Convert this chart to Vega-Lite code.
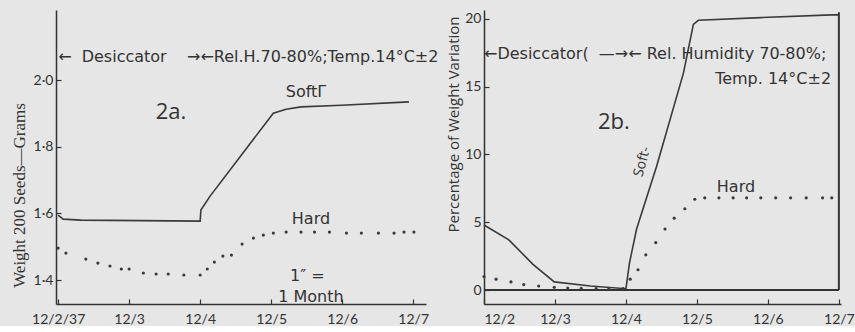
{
  "$schema": "https://vega.github.io/schema/vega-lite/v6.json",
  "background": "#e6e6e6",
  "padding": {"left": 10, "top": 10, "right": 0, "bottom": 0},
  "bounds": "flush",
  "spacing": 58,
  "config": {
    "view": {"stroke": null},
    "axis": {
      "grid": false,
      "domainColor": "#333333",
      "domainWidth": 1.5,
      "tickColor": "#333333",
      "tickWidth": 1.2,
      "tickSize": -5,
      "labelColor": "#333333",
      "labelFont": "Lato",
      "labelFontSize": 14,
      "titleColor": "#333333",
      "titleFontWeight": "normal"
    },
    "text": {"font": "DejaVu Sans", "color": "#333333", "fontSize": 16}
  },
  "datasets": {
    "softA": [
      {"m": 0, "v": 1.595}, {"m": 0.07, "v": 1.583}, {"m": 0.32, "v": 1.58}, {"m": 2.0, "v": 1.577},
      {"m": 2.01, "v": 1.61}, {"m": 2.14, "v": 1.652}, {"m": 3.03, "v": 1.901}, {"m": 3.21, "v": 1.913},
      {"m": 3.42, "v": 1.92}, {"m": 3.99, "v": 1.925}, {"m": 4.94, "v": 1.935}
    ],
    "hardA": [
      {"m": 0, "v": 1.496}, {"m": 0.11, "v": 1.481}, {"m": 0.39, "v": 1.463}, {"m": 0.56, "v": 1.451},
      {"m": 0.73, "v": 1.442}, {"m": 0.89, "v": 1.433}, {"m": 1.0, "v": 1.433}, {"m": 1.2, "v": 1.421},
      {"m": 1.38, "v": 1.418}, {"m": 1.55, "v": 1.418}, {"m": 1.77, "v": 1.415}, {"m": 2.0, "v": 1.415},
      {"m": 2.1, "v": 1.433}, {"m": 2.2, "v": 1.454}, {"m": 2.32, "v": 1.472}, {"m": 2.44, "v": 1.475},
      {"m": 2.59, "v": 1.508}, {"m": 2.75, "v": 1.526}, {"m": 2.89, "v": 1.535}, {"m": 3.03, "v": 1.541},
      {"m": 3.21, "v": 1.544}, {"m": 3.42, "v": 1.544}, {"m": 3.61, "v": 1.544}, {"m": 3.82, "v": 1.544},
      {"m": 4.06, "v": 1.541}, {"m": 4.27, "v": 1.541}, {"m": 4.51, "v": 1.541}, {"m": 4.73, "v": 1.541},
      {"m": 4.87, "v": 1.544}, {"m": 5.01, "v": 1.544}
    ],
    "softB": [
      {"m": 0, "v": 4.8}, {"m": 0.35, "v": 3.7}, {"m": 0.69, "v": 1.9}, {"m": 0.99, "v": 0.6},
      {"m": 1.5, "v": 0.3}, {"m": 2.0, "v": 0.1}, {"m": 2.05, "v": 2.0}, {"m": 2.15, "v": 4.5},
      {"m": 2.43, "v": 9.1}, {"m": 2.81, "v": 16}, {"m": 2.95, "v": 19.6}, {"m": 3.02, "v": 19.9},
      {"m": 3.9, "v": 20.1}, {"m": 4.9, "v": 20.3}, {"m": 5.0, "v": 20.3}
    ],
    "hardB": [
      {"m": 0, "v": 1.0}, {"m": 0.17, "v": 0.8}, {"m": 0.38, "v": 0.6}, {"m": 0.56, "v": 0.4},
      {"m": 0.77, "v": 0.3}, {"m": 0.99, "v": 0.2}, {"m": 1.18, "v": 0.15}, {"m": 1.37, "v": 0.12},
      {"m": 1.58, "v": 0.1}, {"m": 1.76, "v": 0.1}, {"m": 1.96, "v": 0.1}, {"m": 2.06, "v": 0.8},
      {"m": 2.17, "v": 1.5}, {"m": 2.28, "v": 2.6}, {"m": 2.42, "v": 3.5}, {"m": 2.55, "v": 4.5},
      {"m": 2.68, "v": 5.3}, {"m": 2.83, "v": 6.0}, {"m": 2.97, "v": 6.7}, {"m": 3.11, "v": 6.8},
      {"m": 3.31, "v": 6.8}, {"m": 3.51, "v": 6.8}, {"m": 3.7, "v": 6.8}, {"m": 3.9, "v": 6.8},
      {"m": 4.11, "v": 6.8}, {"m": 4.32, "v": 6.8}, {"m": 4.54, "v": 6.8}, {"m": 4.77, "v": 6.8},
      {"m": 4.9, "v": 6.8}
    ],
    "frameB": [
      {"m": 5.0, "m2": 5.0, "v": 0, "v2": 20.5},
      {"m": 0, "m2": 5.0, "v": 0, "v2": 0}
    ],
    "headA": [{"m": 0, "v": 2.07, "t": "←\u00a0\u00a0Desiccator\u00a0\u00a0\u00a0\u00a0→←Rel.H.70-80%;Temp.14°C±2"}],
    "notesA": [
      {"m": 3.49, "v": 1.965, "t": "SoftΓ"},
      {"m": 3.56, "v": 1.583, "t": "Hard"},
      {"m": 3.51, "v": 1.412, "t": "1″ ="},
      {"m": 3.56, "v": 1.35, "t": "1 Month"}
    ],
    "bigA": [{"m": 1.59, "v": 1.905, "t": "2a."}],
    "headB": [{"m": 0, "v": 17.4, "t": "←Desiccator(\u00a0\u00a0—→←\u00a0Rel. Humidity 70-80%;"}],
    "tempB": [{"m": 4.89, "v": 15.6, "t": "Temp. 14°C±2"}],
    "notesB": [{"m": 3.55, "v": 7.6, "t": "Hard"}],
    "softLabB": [{"m": 2.23, "v": 9.45, "t": "Soft-"}],
    "bigB": [{"m": 1.83, "v": 12.4, "t": "2b."}]
  },
  "hconcat": [
    {
      "width": 370,
      "height": 294,
      "encoding": {
        "x": {
          "field": "m", "type": "quantitative",
          "scale": {"domain": [-0.03, 5.18], "nice": false, "zero": false},
          "axis": {
            "values": [0, 1, 2, 3, 4, 5],
            "title": null,
            "labelPadding": 13,
            "labelExpr": "['12/2/37','12/3','12/4','12/5','12/6','12/7'][datum.value]"
          }
        },
        "y": {
          "field": "v", "type": "quantitative",
          "scale": {"domain": [1.328, 2.211], "nice": false, "zero": false},
          "axis": {
            "values": [1.4, 1.6, 1.8, 2.0],
            "title": "Weight 200 Seeds—Grams",
            "titleFont": "Liberation Serif",
            "titleFontSize": 17,
            "titleAngle": -90,
            "titleX": -37,
            "titleY": 185,
            "titleAlign": "center",
            "titleBaseline": "middle",
            "labelPadding": 8,
            "labelExpr": "replace(format(datum.value, '.1f'), '.', '·')"
          }
        }
      },
      "layer": [
        {"data": {"name": "softA"}, "mark": {"type": "line", "color": "#3a3a3a", "strokeWidth": 1.6}},
        {"data": {"name": "hardA"}, "mark": {"type": "point", "filled": true, "size": 10, "color": "#3a3a3a", "opacity": 1}},
        {"data": {"name": "headA"}, "mark": {"type": "text", "align": "left", "baseline": "middle"}, "encoding": {"text": {"field": "t"}}},
        {"data": {"name": "notesA"}, "mark": {"type": "text", "align": "center", "baseline": "middle"}, "encoding": {"text": {"field": "t"}}},
        {"data": {"name": "bigA"}, "mark": {"type": "text", "align": "center", "baseline": "middle", "fontSize": 22, "font": "Open Sans"}, "encoding": {"text": {"field": "t"}}}
      ]
    },
    {
      "width": 357,
      "height": 294,
      "encoding": {
        "x": {
          "field": "m", "type": "quantitative",
          "scale": {"domain": [0, 5.03], "nice": false, "zero": false},
          "axis": {
            "values": [0, 1, 2, 3, 4, 5],
            "title": null,
            "labelPadding": 13,
            "labelExpr": "'12/' + (datum.value + 2)"
          }
        },
        "y": {
          "field": "v", "type": "quantitative",
          "scale": {"domain": [-1.03, 20.66], "nice": false, "zero": false},
          "axis": {
            "values": [0, 5, 10, 15, 20],
            "title": "Percentage of Weight Variation",
            "titleFont": "Open Sans",
            "titleFontSize": 15,
            "titleAngle": -90,
            "titleX": -31,
            "titleY": 114,
            "titleAlign": "center",
            "titleBaseline": "middle",
            "labelPadding": 8
          }
        }
      },
      "layer": [
        {"data": {"name": "frameB"}, "mark": {"type": "rule", "color": "#333333", "strokeWidth": 2}, "encoding": {"x2": {"field": "m2"}, "y2": {"field": "v2"}}},
        {"data": {"name": "softB"}, "mark": {"type": "line", "color": "#3a3a3a", "strokeWidth": 1.6}},
        {"data": {"name": "hardB"}, "mark": {"type": "point", "filled": true, "size": 10, "color": "#3a3a3a", "opacity": 1}},
        {"data": {"name": "headB"}, "mark": {"type": "text", "align": "left", "baseline": "middle"}, "encoding": {"text": {"field": "t"}}},
        {"data": {"name": "tempB"}, "mark": {"type": "text", "align": "right", "baseline": "middle"}, "encoding": {"text": {"field": "t"}}},
        {"data": {"name": "notesB"}, "mark": {"type": "text", "align": "center", "baseline": "middle"}, "encoding": {"text": {"field": "t"}}},
        {"data": {"name": "softLabB"}, "mark": {"type": "text", "align": "center", "baseline": "middle", "fontSize": 14, "angle": 285, "font": "Open Sans"}, "encoding": {"text": {"field": "t"}}},
        {"data": {"name": "bigB"}, "mark": {"type": "text", "align": "center", "baseline": "middle", "fontSize": 22, "font": "Open Sans"}, "encoding": {"text": {"field": "t"}}}
      ]
    }
  ]
}
